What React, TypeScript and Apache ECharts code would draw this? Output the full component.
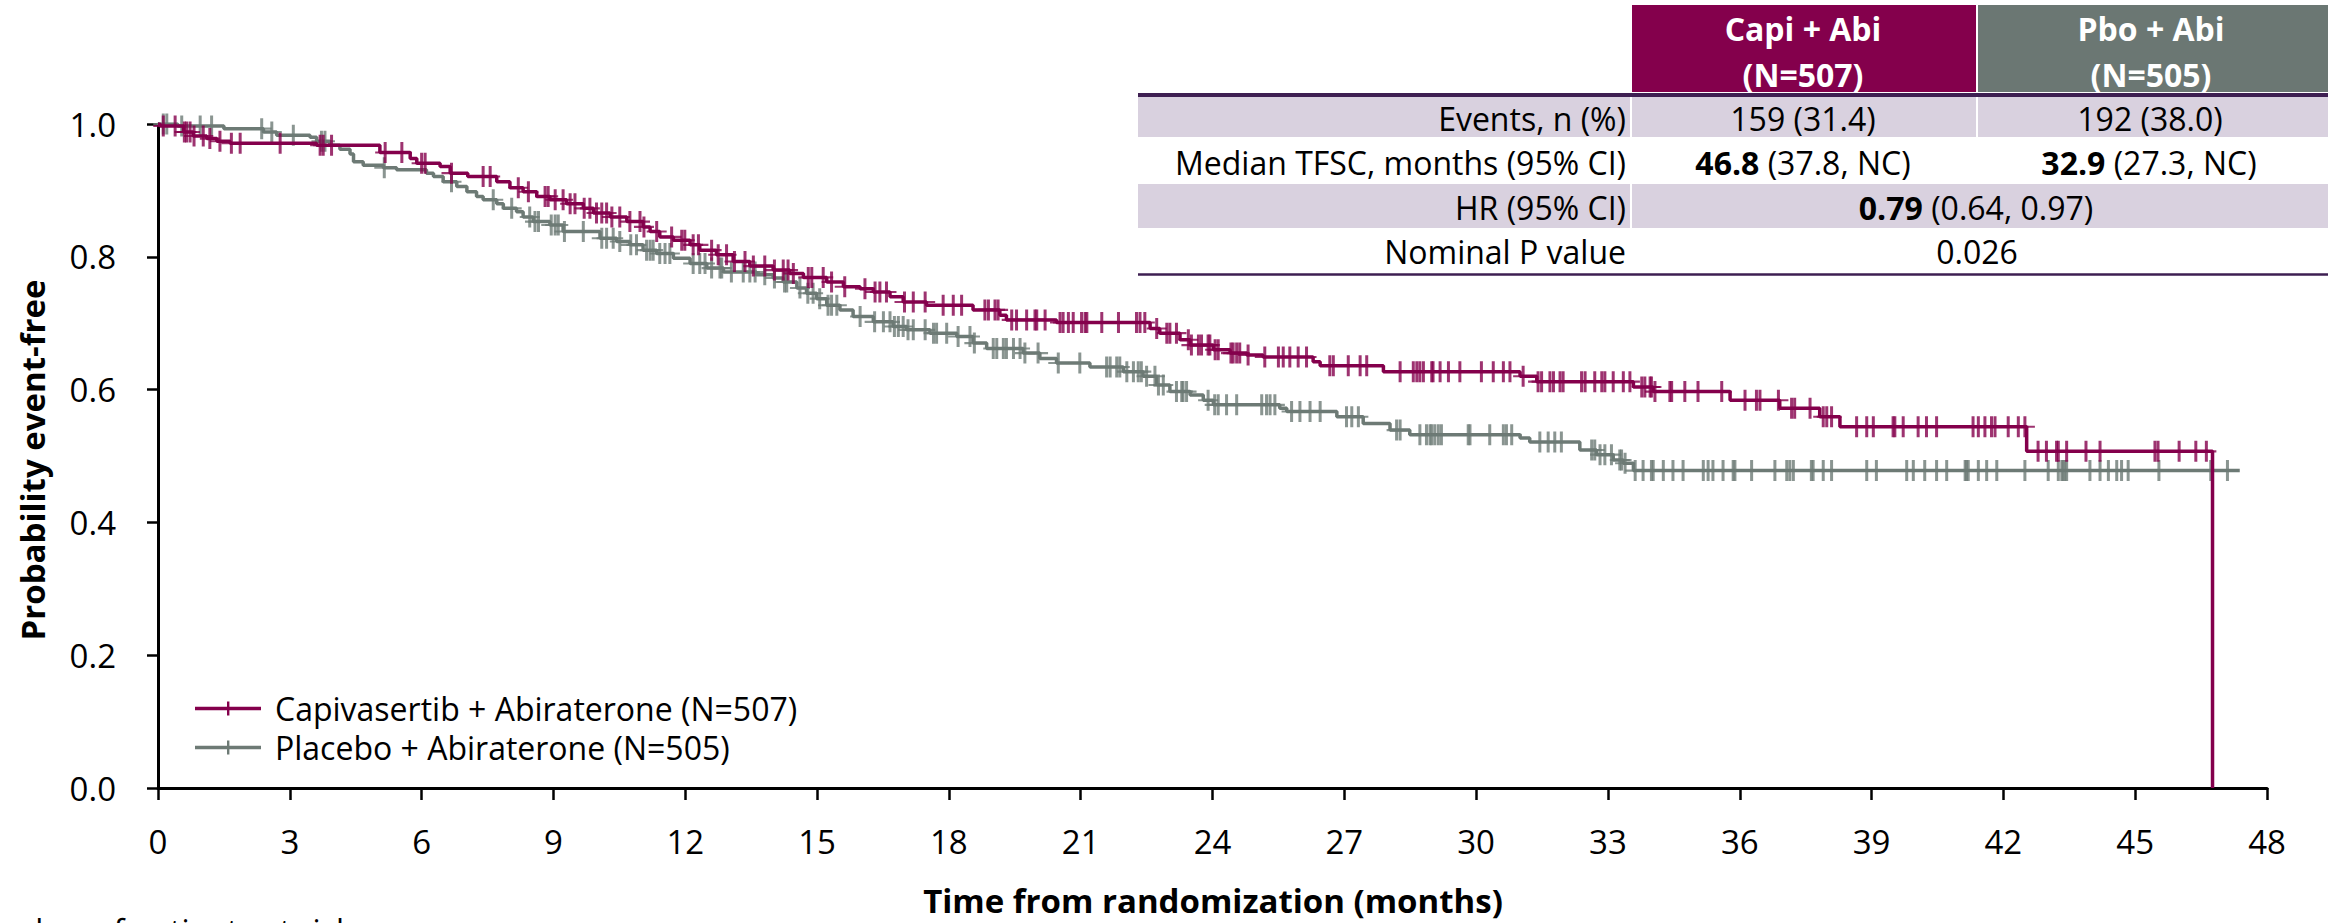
import React, { useEffect, useRef } from "react";
import * as echarts from "echarts";

const FONT = "'Open Sans', 'Noto Sans', sans-serif";
const CAPI_COLOR = "#84004C";
const PBO_COLOR = "#6D7A75";
const PBO_HEADER = "#6B7773";
const LAVENDER = "#D9D1DF";
const RULE = "#3E1F52";

const CAPI_NAME = "Capivasertib + Abiraterone (N=507)";
const PBO_NAME = "Placebo + Abiraterone (N=505)";

// Kaplan-Meier step points (time in months, probability event-free)
const capiTimes = [0, 0.05, 0.58, 0.8, 1.11, 1.34, 1.64, 3.61, 5.05, 5.74, 5.89, 6.42, 6.65, 7.05, 7.71, 8.01, 8.31, 8.62, 8.92, 9.3, 9.68, 9.91, 10.29, 10.67, 11.04, 11.2, 11.42, 11.73, 12.11, 12.33, 12.71, 13.09, 13.47, 14.0, 14.38, 14.69, 15.22, 15.6, 15.98, 16.28, 16.66, 16.96, 17.49, 18.55, 19.16, 19.31, 20.45, 22.58, 22.8, 23.26, 23.49, 24.02, 24.4, 24.78, 25.15, 26.29, 26.45, 27.89, 31.0, 31.38, 33.58, 34.03, 35.78, 36.91, 37.82, 38.28, 42.53, 46.76];
const capiSurv = [1.0, 0.997, 0.988, 0.982, 0.978, 0.974, 0.971, 0.968, 0.957, 0.948, 0.941, 0.936, 0.926, 0.921, 0.913, 0.904, 0.898, 0.891, 0.886, 0.88, 0.873, 0.866, 0.86, 0.853, 0.845, 0.838, 0.83, 0.825, 0.818, 0.81, 0.803, 0.793, 0.786, 0.78, 0.775, 0.769, 0.762, 0.755, 0.752, 0.747, 0.74, 0.732, 0.727, 0.72, 0.712, 0.705, 0.701, 0.692, 0.685, 0.675, 0.667, 0.66, 0.655, 0.652, 0.649, 0.642, 0.636, 0.627, 0.62, 0.612, 0.604, 0.597, 0.584, 0.572, 0.559, 0.544, 0.507, 0.0];

const pboTimes = [0, 0.45, 1.5, 2.4, 2.7, 3.46, 3.61, 3.91, 4.14, 4.37, 4.45, 4.67, 5.13, 5.43, 6.11, 6.27, 6.49, 6.8, 7.03, 7.25, 7.4, 7.71, 7.86, 8.16, 8.31, 8.54, 8.92, 9.22, 10.06, 10.44, 10.74, 11.04, 11.35, 11.73, 12.11, 12.49, 12.87, 13.62, 14.0, 14.23, 14.54, 14.76, 14.99, 15.22, 15.52, 15.82, 16.28, 16.73, 17.04, 17.57, 18.18, 18.55, 18.86, 19.69, 20.07, 20.45, 21.21, 21.97, 22.42, 22.73, 23.03, 23.49, 23.79, 24.02, 25.53, 25.69, 26.83, 27.43, 28.04, 28.49, 31.0, 31.22, 32.36, 32.74, 33.12, 33.35, 33.58, 47.38];
const pboSurv = [1.0, 0.997, 0.993, 0.988, 0.983, 0.98, 0.974, 0.968, 0.962, 0.955, 0.943, 0.938, 0.934, 0.931, 0.926, 0.921, 0.913, 0.906, 0.898, 0.891, 0.886, 0.88, 0.873, 0.868, 0.86, 0.853, 0.848, 0.838, 0.828, 0.823, 0.818, 0.81, 0.805, 0.798, 0.79, 0.783, 0.777, 0.773, 0.768, 0.762, 0.753, 0.745, 0.737, 0.727, 0.72, 0.71, 0.702, 0.695, 0.69, 0.685, 0.68, 0.67, 0.662, 0.655, 0.647, 0.64, 0.634, 0.627, 0.62, 0.607, 0.597, 0.592, 0.584, 0.577, 0.572, 0.567, 0.559, 0.549, 0.539, 0.532, 0.527, 0.521, 0.509, 0.502, 0.494, 0.489, 0.478, 0.478];

// Censoring times (months)
const capiCensor = [0.12, 0.39, 0.6, 0.65, 0.73, 0.82, 1.03, 1.18, 1.41, 1.67, 1.87, 2.78, 3.69, 3.76, 3.95, 5.17, 5.55, 6.0, 6.08, 6.68, 7.4, 7.56, 8.2, 8.43, 8.81, 8.88, 9.04, 9.22, 9.38, 9.49, 9.7, 9.83, 9.98, 10.1, 10.21, 10.33, 10.51, 10.74, 10.97, 11.06, 11.35, 11.69, 11.92, 11.99, 12.18, 12.3, 12.6, 12.75, 12.94, 13.12, 13.36, 13.55, 13.81, 14.03, 14.23, 14.34, 14.46, 14.8, 14.88, 15.14, 15.33, 15.63, 16.09, 16.32, 16.43, 16.58, 16.99, 17.19, 17.46, 17.87, 18.1, 18.29, 18.82, 18.9, 19.05, 19.12, 19.43, 19.54, 19.77, 19.96, 20.0, 20.19, 20.53, 20.6, 20.72, 20.83, 21.02, 21.1, 21.14, 21.48, 21.86, 22.27, 22.35, 22.46, 22.73, 22.96, 23.03, 23.18, 23.45, 23.52, 23.68, 23.75, 23.9, 23.94, 24.06, 24.13, 24.42, 24.47, 24.55, 24.62, 24.81, 25.19, 25.5, 25.61, 25.76, 25.95, 26.14, 26.67, 26.75, 27.09, 27.36, 27.51, 28.27, 28.57, 28.65, 28.72, 28.8, 28.99, 29.02, 29.18, 29.37, 29.63, 30.12, 30.39, 30.62, 30.77, 31.07, 31.41, 31.49, 31.68, 31.76, 31.91, 31.98, 32.4, 32.48, 32.7, 32.86, 32.93, 33.12, 33.35, 33.5, 33.77, 33.84, 33.96, 33.99, 34.07, 34.41, 34.45, 34.75, 35.05, 35.59, 36.12, 36.38, 36.46, 36.88, 37.18, 37.25, 37.6, 37.9, 37.98, 38.09, 38.66, 38.89, 39.04, 39.49, 39.53, 39.72, 40.06, 40.25, 40.48, 41.31, 41.43, 41.58, 41.73, 41.81, 42.11, 42.34, 42.49, 42.79, 42.98, 43.21, 43.25, 43.44, 43.88, 44.2, 45.45, 45.52, 46.0, 46.38, 46.62];
const pboCensor = [0.12, 0.2, 0.54, 0.96, 1.22, 2.36, 2.59, 3.08, 3.72, 3.8, 5.15, 6.68, 7.63, 8.05, 8.46, 8.58, 8.66, 8.95, 9.04, 9.11, 9.25, 9.68, 10.1, 10.21, 10.36, 10.51, 10.76, 10.89, 11.12, 11.2, 11.27, 11.42, 11.54, 11.65, 12.18, 12.33, 12.45, 12.6, 12.79, 12.83, 13.05, 13.32, 13.47, 13.59, 13.81, 14.03, 14.26, 14.31, 14.61, 14.79, 14.91, 15.06, 15.25, 15.33, 15.45, 15.98, 16.31, 16.51, 16.66, 16.76, 16.85, 16.96, 17.07, 17.19, 17.46, 17.65, 17.72, 17.95, 18.21, 18.48, 18.58, 19.01, 19.09, 19.24, 19.31, 19.47, 19.62, 19.73, 20.03, 20.49, 20.98, 21.59, 21.67, 21.82, 21.89, 22.05, 22.2, 22.31, 22.38, 22.5, 22.69, 22.77, 22.88, 23.18, 23.3, 23.33, 23.41, 23.9, 24.05, 24.13, 24.32, 24.55, 25.12, 25.23, 25.31, 25.42, 25.8, 25.99, 26.22, 26.45, 27.05, 27.17, 27.32, 28.19, 28.27, 28.72, 28.87, 28.95, 28.99, 29.06, 29.14, 29.21, 29.82, 29.86, 30.31, 30.62, 30.69, 30.81, 31.45, 31.64, 31.79, 31.94, 32.63, 32.7, 32.82, 32.93, 33.08, 33.27, 33.31, 33.39, 33.62, 33.8, 33.99, 34.03, 34.26, 34.48, 34.71, 35.17, 35.28, 35.39, 35.62, 35.85, 35.89, 36.27, 36.8, 37.07, 37.14, 37.22, 37.63, 37.67, 37.9, 38.09, 38.89, 39.11, 39.8, 39.95, 40.21, 40.48, 40.71, 41.13, 41.16, 41.2, 41.43, 41.62, 41.85, 42.49, 43.02, 43.25, 43.33, 43.36, 43.4, 43.44, 43.97, 44.2, 44.39, 44.58, 44.69, 44.84, 45.54, 46.72, 47.1];

// Table content
const tableHeaders = [["Capi + Abi", "(N=507)"], ["Pbo + Abi", "(N=505)"]];
const tableRowLabels = ["Events, n (%)", "Median TFSC, months (95% CI)", "HR (95% CI)", "Nominal P value"];
const eventsValues = ["159 (31.4)", "192 (38.0)"];
const medianValues = [["46.8", "(37.8, NC)"], ["32.9", "(27.3, NC)"]];
const hrValue = ["0.79", "(0.64, 0.97)"];
const pValue = "0.026";

function survAt(times: number[], surv: number[], t: number) {
  let v = surv[0];
  for (let i = 0; i < times.length; i++) {
    if (times[i] <= t) v = surv[i];
    else break;
  }
  return v;
}

const PLUS = "path://M8.5,0 H11.5 V9 H20 V11 H11.5 V20 H8.5 V11 H0 V9 H8.5 Z";
const LEGEND_ICON = "path://M0,5.3 H66 V8.7 H0 Z M32,0 H34.4 V14 H32 Z";

function txt(x: number, y: number, text: string, opts: any = {}) {
  return {
    type: "text",
    x,
    y,
    z: 10,
    style: {
      text,
      fontSize: opts.size || 32,
      fontFamily: FONT,
      fill: opts.fill || "#000",
      fontWeight: opts.bold ? "bold" : "normal",
      textAlign: opts.align || "center",
      align: opts.align || "center",
      textVerticalAlign: "middle",
      verticalAlign: "middle",
      rich: opts.rich,
    },
  };
}

function rect(x: number, y: number, w: number, h: number, fill: string) {
  return { type: "rect", z: 5, shape: { x, y, width: w, height: h }, style: { fill } };
}

export default function App() {
  const ref = useRef<HTMLDivElement>(null);
  useEffect(() => {
    if (!ref.current) return;
    const chart = echarts.init(ref.current, undefined, { renderer: "svg" });

    const capiLine = capiTimes.map((t, i) => [t, capiSurv[i]]);
    const pboLine = pboTimes.map((t, i) => [t, pboSurv[i]]);
    const capiMarks = capiCensor.map((t) => [t, survAt(capiTimes, capiSurv, t)]);
    const pboMarks = pboCensor.map((t) => [t, survAt(pboTimes, pboSurv, t)]);

    const boldRich = { b: { fontWeight: "bold", fontSize: 32, fontFamily: FONT, fill: "#000" } };

    const graphics: any[] = [
      // header cells
      rect(1632, 5, 344, 87, CAPI_COLOR),
      rect(1978, 5, 350, 87, PBO_HEADER),
      txt(1803, 28, tableHeaders[0][0], { bold: true, fill: "#fff" }),
      txt(1803, 74, tableHeaders[0][1], { bold: true, fill: "#fff" }),
      txt(2151, 28, tableHeaders[1][0], { bold: true, fill: "#fff" }),
      txt(2151, 74, tableHeaders[1][1], { bold: true, fill: "#fff" }),
      // shaded rows
      rect(1138, 97, 492, 40, LAVENDER),
      rect(1632, 97, 344, 40, LAVENDER),
      rect(1978, 97, 350, 40, LAVENDER),
      rect(1138, 184, 492, 44, LAVENDER),
      rect(1632, 184, 696, 44, LAVENDER),
      // rules
      { type: "line", z: 6, shape: { x1: 1138, y1: 95, x2: 2328, y2: 95 }, style: { stroke: RULE, lineWidth: 4 } },
      { type: "line", z: 6, shape: { x1: 1138, y1: 274.5, x2: 2328, y2: 274.5 }, style: { stroke: RULE, lineWidth: 2.5 } },
      // row labels
      txt(1626, 118, tableRowLabels[0], { align: "right" }),
      txt(1626, 162, tableRowLabels[1], { align: "right" }),
      txt(1626, 207, tableRowLabels[2], { align: "right" }),
      txt(1626, 251, tableRowLabels[3], { align: "right" }),
      // values
      txt(1803, 118, eventsValues[0]),
      txt(2150, 118, eventsValues[1]),
      txt(1803, 162, `{b|${medianValues[0][0]}} ${medianValues[0][1]}`, { rich: boldRich }),
      txt(2149, 162, `{b|${medianValues[1][0]}} ${medianValues[1][1]}`, { rich: boldRich }),
      txt(1976, 207, `{b|${hrValue[0]}} ${hrValue[1]}`, { rich: boldRich }),
      txt(1977, 251, pValue),
      // axis titles
      txt(1213, 900, "Time from randomization (months)", { bold: true, size: 33 }),
      { ...txt(32, 460, "Probability event-free", { bold: true, size: 33 }), rotation: Math.PI / 2 },
      // partially visible text at bottom edge
      {
        type: "text",
        x: -38,
        y: 914,
        z: 10,
        style: { text: "Number of patients at risk", fontSize: 32, fontFamily: FONT, fill: "#000", textVerticalAlign: "top", verticalAlign: "top" },
      },
    ];

    chart.setOption({
      animation: false,
      backgroundColor: "#fff",
      grid: { left: 158, right: 61, top: 124, bottom: 135, containLabel: false },
      legend: {
        orient: "vertical",
        left: 190,
        top: 687,
        itemWidth: 66,
        itemHeight: 14,
        itemGap: 6,
        data: [
          { name: CAPI_NAME, icon: LEGEND_ICON },
          { name: PBO_NAME, icon: LEGEND_ICON },
        ],
        textStyle: { fontSize: 32, lineHeight: 33, fontFamily: FONT, color: "#000", padding: [0, 0, 0, 9] },
        selectedMode: false,
      },
      xAxis: {
        type: "value",
        min: 0,
        max: 48,
        interval: 3,
        axisLine: { show: true, lineStyle: { color: "#000", width: 3 } },
        axisTick: { show: true, length: 12, lineStyle: { color: "#000", width: 2.5 } },
        axisLabel: { fontSize: 33, fontFamily: FONT, color: "#000", margin: 37 },
        splitLine: { show: false },
      },
      yAxis: {
        type: "value",
        min: 0,
        max: 1,
        interval: 0.2,
        axisLine: { show: true, lineStyle: { color: "#000", width: 3 } },
        axisTick: { show: true, length: 11, lineStyle: { color: "#000", width: 2.5 } },
        axisLabel: { fontSize: 33, fontFamily: FONT, color: "#000", margin: 42, formatter: (v: number) => v.toFixed(1) },
        splitLine: { show: false },
      },
      series: [
        {
          type: "line",
          name: PBO_NAME,
          data: pboLine,
          step: "end",
          symbol: "none",
          lineStyle: { color: PBO_COLOR, width: 3.5 },
          itemStyle: { color: PBO_COLOR },
          z: 2,
        },
        {
          type: "scatter",
          name: "pbo-censor",
          data: pboMarks,
          symbol: PLUS,
          symbolSize: [20, 21],
          itemStyle: { color: PBO_COLOR },
          z: 2,
        },
        {
          type: "line",
          name: CAPI_NAME,
          data: capiLine,
          step: "end",
          symbol: "none",
          lineStyle: { color: CAPI_COLOR, width: 3.5 },
          itemStyle: { color: CAPI_COLOR },
          z: 3,
        },
        {
          type: "scatter",
          name: "capi-censor",
          data: capiMarks,
          symbol: PLUS,
          symbolSize: [20, 21],
          itemStyle: { color: CAPI_COLOR },
          z: 3,
        },
      ],
      graphic: graphics,
    });

    return () => chart.dispose();
  }, []);

  return <div ref={ref} style={{ position: "fixed", left: 0, top: 0, width: 2328, height: 923, background: "#fff" }} />;
}
